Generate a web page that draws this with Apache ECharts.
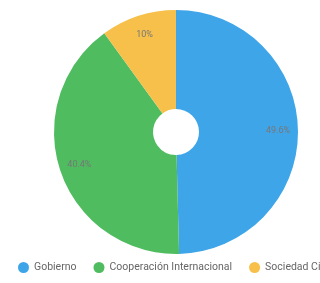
<!DOCTYPE html>
<html>
<head>
<meta charset="utf-8">
<script src="https://cdn.jsdelivr.net/npm/echarts@6/dist/echarts.min.js"></script>
<style>
  html, body { margin: 0; padding: 0; background: #fff; }
  #chart { width: 320px; height: 283px; }
</style>
</head>
<body>
<div id="chart"></div>
<script>
  let categories = ['Gobierno', 'Cooperación Internacional', 'Sociedad Civil'];
  let values = [49.6, 40.4, 10];
  let labels = ['49.6%', '40.4%', '10%'];
  let colors = ['#3fa5e9', '#4fbc60', '#f6c04b'];

  let chart = echarts.init(document.getElementById('chart'));

  let pieData = categories.map(function (name, i) {
    return { name: name, value: values[i], itemStyle: { color: colors[i] } };
  });
  // label ring: transparent, only holds the percent texts further out
  let labelData = categories.map(function (name, i) {
    return { name: name, value: values[i], label: { formatter: labels[i] } };
  });

  let option = {
    animation: false,
    legend: {
      data: categories,
      left: 13,
      top: 257,
      width: 600,
      icon: 'circle',
      itemWidth: 11,
      itemHeight: 11,
      itemGap: 17,
      textStyle: { color: '#666', fontSize: 10.5, fontFamily: 'Roboto' }
    },
    series: [
      {
        type: 'pie',
        center: [176, 132],
        radius: [23, 122],
        startAngle: 90,
        clockwise: true,
        silent: true,
        label: { show: false },
        labelLine: { show: false },
        data: pieData
      },
      {
        type: 'pie',
        center: [176, 132],
        radius: [76, 122],
        startAngle: 90,
        clockwise: true,
        silent: true,
        itemStyle: { color: 'rgba(0,0,0,0)' },
        label: {
          show: true,
          position: 'inside',
          color: '#777',
          fontSize: 9,
          fontFamily: 'Roboto'
        },
        labelLine: { show: false },
        data: labelData
      }
    ]
  };
  chart.setOption(option);
</script>
</body>
</html>
